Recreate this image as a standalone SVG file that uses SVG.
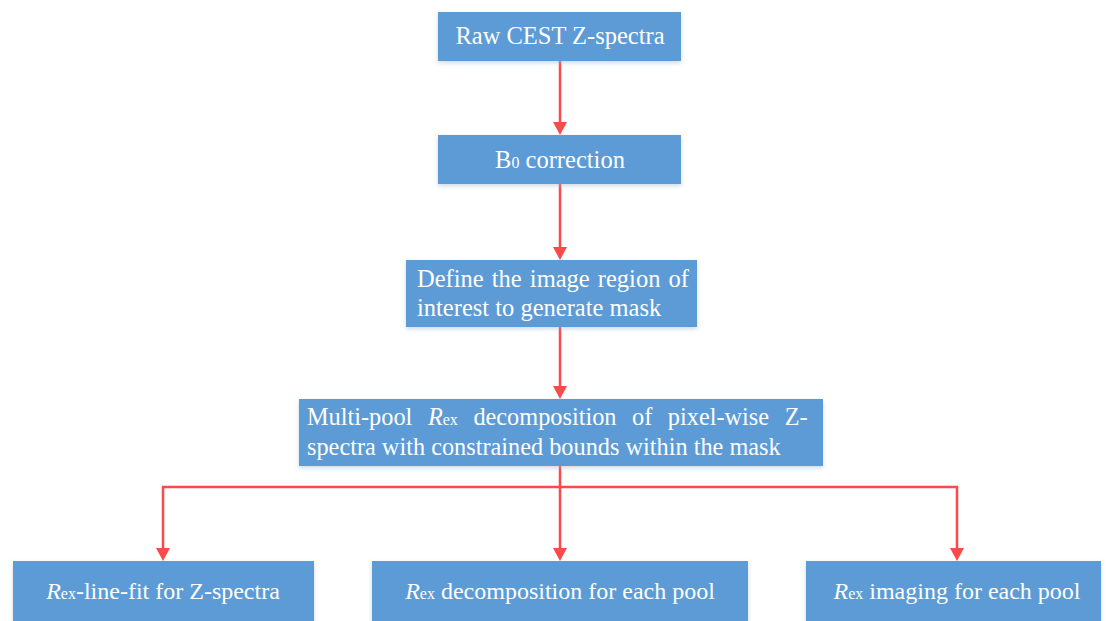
<svg xmlns="http://www.w3.org/2000/svg" width="1111" height="621" viewBox="0 0 1111 621">
<defs>
<filter id="sh" x="-5%" y="-10%" width="110%" height="130%"><feDropShadow dx="0" dy="2" stdDeviation="2" flood-color="#9db3cc" flood-opacity="0.5"/></filter>
</defs>
<style>
.box{fill:#5b9bd5;filter:url(#sh)}
.c{stroke:#fa4a4a;stroke-width:2.5;fill:none}
.a{fill:#fa4a4a}
</style>
<rect width="1111" height="621" fill="#ffffff"/>
<g id="connectors">
<line class="c" x1="560" y1="61" x2="560" y2="122"/>
<path class="a" d="M553,122 L567,122 L560,135 Z"/>
<line class="c" x1="560" y1="184" x2="560" y2="247"/>
<path class="a" d="M553,247 L567,247 L560,260 Z"/>
<line class="c" x1="560" y1="327" x2="560" y2="386"/>
<path class="a" d="M553,386 L567,386 L560,399 Z"/>
<line class="c" x1="560" y1="466" x2="560" y2="548"/>
<path class="a" d="M553,548 L567,548 L560,561 Z"/>
<polyline class="c" points="163,548 163,487 957,487 957,548"/>
<path class="a" d="M156,548 L170,548 L163,561 Z"/>
<path class="a" d="M950,548 L964,548 L957,561 Z"/>
</g>
<g id="n1"><rect class="box" x="438" y="12" width="243" height="49"/><text x="560" y="44" font-family="Liberation Serif" font-size="24.5" fill="#ffffff" text-anchor="middle">Raw CEST Z-spectra</text></g>
<g id="n2"><rect class="box" x="438" y="135" width="243" height="49"/><text x="560" y="168" font-family="Liberation Serif" font-size="24.5" fill="#ffffff" text-anchor="middle">B<tspan font-size="16">0</tspan> correction</text></g>
<g id="n3"><rect class="box" x="406" y="260" width="291" height="67"/><text font-family="Liberation Serif" font-size="24.5" fill="#ffffff"><tspan x="417" y="287" word-spacing="2">Define the image region of</tspan><tspan x="417" y="316">interest to generate mask</tspan></text></g>
<g id="n4"><rect class="box" x="299" y="399" width="524" height="67"/><text font-family="Liberation Serif" font-size="24.3" fill="#ffffff"><tspan x="307" y="425" word-spacing="9.5">Multi-pool <tspan font-style="italic">R</tspan><tspan font-size="16">ex</tspan> decomposition of pixel-wise Z-</tspan><tspan x="307" y="455">spectra with constrained bounds within the mask</tspan></text></g>
<g id="n5"><rect class="box" x="13" y="561" width="301" height="62"/><text x="163" y="599" font-family="Liberation Serif" font-size="24" fill="#ffffff" text-anchor="middle"><tspan font-style="italic">R</tspan><tspan font-size="16">ex</tspan>-line-fit for Z-spectra</text></g>
<g id="n6"><rect class="box" x="372" y="561" width="376" height="62"/><text x="560" y="599" font-family="Liberation Serif" font-size="24" fill="#ffffff" text-anchor="middle"><tspan font-style="italic">R</tspan><tspan font-size="16">ex</tspan> decomposition for each pool</text></g>
<g id="n7"><rect class="box" x="806" y="561" width="295" height="62"/><text x="957" y="599" font-family="Liberation Serif" font-size="24" fill="#ffffff" text-anchor="middle"><tspan font-style="italic">R</tspan><tspan font-size="16">ex</tspan> imaging for each pool</text></g>
</svg>
